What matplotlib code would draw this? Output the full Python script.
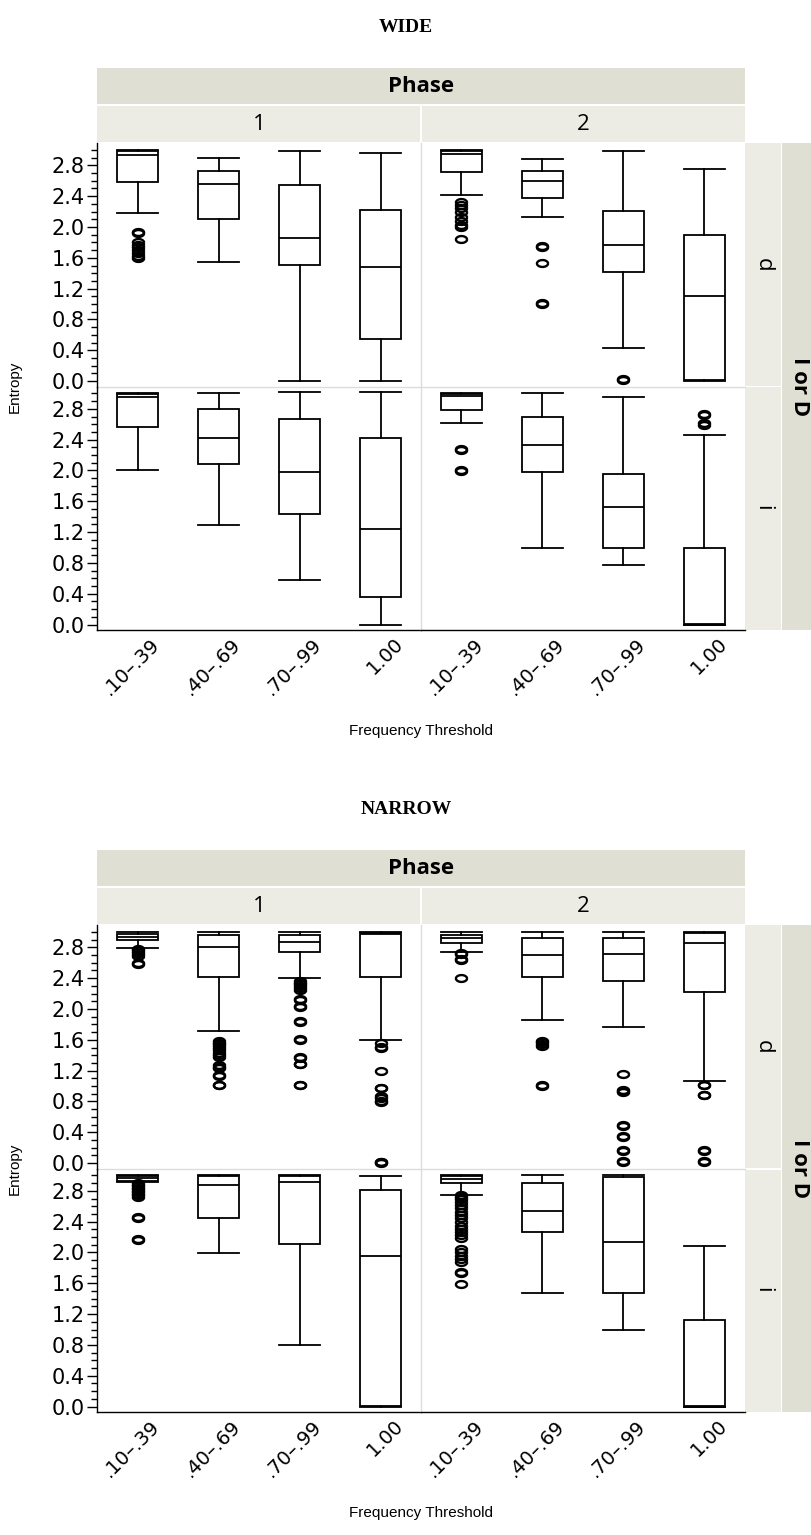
import numpy as np
import matplotlib
matplotlib.use("Agg")
import matplotlib.pyplot as plt
from matplotlib.patches import Rectangle
from matplotlib.ticker import MultipleLocator, FormatStrFormatter
from matplotlib.path import Path
from matplotlib.transforms import ScaledTranslation

# ---------------- data ----------------
categories = [".10\u2013.39", ".40\u2013.69", ".70\u2013.99", "1.00"]
phases = ["1", "2"]
rows = ["d", "i"]
titles = ["WIDE", "NARROW"]

# each box: (whisker low, q1, median, q3, whisker high)
wide_d1 = [(2.18, 2.58, 2.94, 2.99, 3.00), (1.55, 2.11, 2.56, 2.73, 2.89),
           (0.00, 1.51, 1.855, 2.54, 2.99), (0.00, 0.54, 1.48, 2.225, 2.96)]
wide_d2 = [(2.41, 2.72, 2.95, 2.99, 3.00), (2.13, 2.37, 2.60, 2.73, 2.88),
           (0.43, 1.42, 1.76, 2.21, 2.99), (0.00, 0.01, 1.11, 1.89, 2.75)]
wide_i1 = [(2.00, 2.57, 2.95, 2.99, 3.00), (1.29, 2.09, 2.42, 2.795, 3.00),
           (0.58, 1.43, 1.98, 2.67, 3.02), (0.00, 0.36, 1.24, 2.42, 3.02)]
wide_i2 = [(2.61, 2.78, 2.97, 2.99, 3.00), (1.00, 1.98, 2.33, 2.70, 3.00),
           (0.77, 1.00, 1.53, 1.95, 2.95), (0.00, 0.00, 0.01, 1.00, 2.46)]

wide_d1_out = [[1.93, 1.92, 1.80, 1.77, 1.74, 1.70, 1.66, 1.62, 1.60], [], [], []]
wide_d2_out = [[2.32, 2.28, 2.24, 2.20, 2.13, 2.08, 2.03, 2.00, 1.85],
               [1.75, 1.74, 1.53, 1.02, 1.00], [0.03, 0.02], []]
wide_i1_out = [[], [], [], []]
wide_i2_out = [[2.28, 2.26, 2.01, 1.99], [], [], [2.73, 2.72, 2.61, 2.59]]

narrow_d1 = [(2.79, 2.89, 2.94, 2.97, 3.00), (1.71, 2.42, 2.81, 2.96, 3.00),
             (2.40, 2.74, 2.87, 2.965, 3.00), (1.60, 2.42, 2.97, 2.985, 3.00)]
narrow_d2 = [(2.74, 2.86, 2.92, 2.965, 3.00), (1.86, 2.42, 2.70, 2.92, 3.00),
             (1.76, 2.36, 2.72, 2.92, 3.00), (1.07, 2.22, 2.855, 2.98, 3.00)]
narrow_i1 = [(2.91, 2.93, 2.965, 2.99, 3.00), (1.99, 2.45, 2.87, 2.99, 3.00),
             (0.80, 2.11, 2.92, 2.99, 3.00), (0.00, 0.01, 1.96, 2.81, 2.99)]
narrow_i2 = [(2.75, 2.90, 2.96, 2.99, 3.00), (1.48, 2.26, 2.54, 2.90, 3.00),
             (0.99, 1.48, 2.14, 2.98, 3.00), (0.00, 0.00, 0.01, 1.12, 2.09)]

narrow_d1_out = [[2.78, 2.76, 2.74, 2.72, 2.69, 2.60, 2.58],
                 [1.58, 1.56, 1.54, 1.52, 1.50, 1.47, 1.43, 1.40, 1.38, 1.27, 1.25, 1.24,
                  1.14, 1.13, 1.02, 1.01],
                 [2.36, 2.34, 2.32, 2.30, 2.27, 2.24, 2.13, 2.12, 2.04, 2.03, 1.84, 1.83,
                  1.61, 1.60, 1.38, 1.37, 1.29, 1.28, 1.02, 1.01],
                 [1.56, 1.51, 1.50, 1.20, 0.98, 0.97, 0.87, 0.85, 0.80, 0.79, 0.02, 0.01, 0.00]]
narrow_d2_out = [[2.73, 2.72, 2.65, 2.63, 2.40],
                 [1.59, 1.57, 1.55, 1.52, 1.01, 1.00],
                 [1.15, 0.95, 0.93, 0.92, 0.50, 0.48, 0.35, 0.34, 0.17, 0.16, 0.03, 0.02],
                 [1.02, 1.01, 0.89, 0.88, 0.17, 0.16, 0.03, 0.02]]
narrow_i1_out = [[2.90, 2.88, 2.86, 2.84, 2.82, 2.80, 2.78, 2.76, 2.74, 2.72, 2.46, 2.45,
                  2.17, 2.16], [], [], []]
narrow_i2_out = [[2.75, 2.72, 2.69, 2.66, 2.62, 2.58, 2.53, 2.49, 2.45, 2.39, 2.35, 2.31,
                  2.27, 2.23, 2.19, 2.04, 2.00, 1.96, 1.92, 1.88, 1.75, 1.73, 1.59],
                 [], [], []]

charts = [
    {"d": [(wide_d1, wide_d1_out), (wide_d2, wide_d2_out)],
     "i": [(wide_i1, wide_i1_out), (wide_i2, wide_i2_out)]},
    {"d": [(narrow_d1, narrow_d1_out), (narrow_d2, narrow_d2_out)],
     "i": [(narrow_i1, narrow_i1_out), (narrow_i2, narrow_i2_out)]},
]

# ---------------- layout ----------------
W, H = 812, 1535
fig = plt.figure(figsize=(W / 100, H / 100), dpi=100)
fig.patch.set_facecolor("white")

DARK = "#e0dfd3"
LIGHT = "#ecebe4"
SEP = "#dcdcdc"


def rect(x, y, w, h):
    return [x / W, 1 - (y + h) / H, w / W, h / H]


def add_rect(x, y, w, h, color):
    fig.add_artist(Rectangle((x / W, 1 - (y + h) / H), w / W, h / H,
                             transform=fig.transFigure, facecolor=color,
                             edgecolor="none", zorder=0))


def fx(x):
    return x / W


def fy(y):
    return 1 - y / H


theta = np.linspace(0, 2 * np.pi, 41)
oval = Path(np.column_stack([np.cos(theta), 0.62 * np.sin(theta)]))

strip_font = ["Open Sans", "DejaVu Sans"]
left, pw = 97, 324
for ci, chart in enumerate(charts):
    off = 782 * ci
    fig.text(0.5, fy(27 + off), titles[ci], ha="center", va="center",
             fontsize=14, fontweight="bold", family="Liberation Serif")
    # header strips
    add_rect(left, 68 + off, 2 * pw, 36, DARK)
    fig.text(fx(left + pw), fy(86 + off), "Phase", ha="center", va="center",
             fontsize=16, fontweight="bold", family=strip_font)
    for pi, ph in enumerate(phases):
        add_rect(left + pi * pw + (1 if pi else 0), 106 + off, pw - 1, 36, LIGHT)
        fig.text(fx(left + pi * pw + pw / 2), fy(124 + off), ph, ha="center",
                 va="center", fontsize=16, family=strip_font)
    # right strips
    row_tops = [143, 386.5]
    row_h = 243.5
    for ri, rn in enumerate(rows):
        add_rect(left + 2 * pw, row_tops[ri] + off + (1 if ri else 0), 36,
                 row_h - 1, LIGHT)
        fig.text(fx(left + 2 * pw + 18), fy(row_tops[ri] + row_h / 2 + off), rn,
                 ha="center", va="center", rotation=270, fontsize=16,
                 family=strip_font)
    add_rect(782, 143 + off, 30, 2 * row_h, DARK)
    fig.text(fx(800), fy(386.5 + off), "I or D", ha="center", va="center",
             rotation=270, fontsize=16, fontweight="bold", family=strip_font)

    fig.text(fx(15), fy(386.5 + off), "Entropy", ha="center", va="center",
             rotation=90, fontsize=11, family="Liberation Sans")
    fig.text(fx(left + pw), fy(731 + off), "Frequency Threshold", ha="center",
             va="center", fontsize=11, family="Liberation Sans")

    for ri, rn in enumerate(rows):
        for pi in range(2):
            boxes, outs = chart[rn][pi]
            ax = fig.add_axes(rect(left + pi * pw, row_tops[ri] + off, pw, row_h))
            stats = []
            for (lo, q1, med, q3, hi), fl in zip(boxes, outs):
                stats.append({"whislo": lo, "q1": q1, "med": med, "q3": q3,
                              "whishi": hi, "fliers": fl})
            lw = 1.3
            ax.bxp(stats, positions=range(len(categories)), widths=0.5,
                   capwidths=0.5, patch_artist=True, showfliers=True,
                   boxprops=dict(facecolor="white", edgecolor="black", linewidth=lw),
                   whiskerprops=dict(color="black", linewidth=lw),
                   capprops=dict(color="black", linewidth=lw),
                   medianprops=dict(color="black", linewidth=lw),
                   flierprops=dict(marker=oval, markerfacecolor="none",
                                   markeredgecolor="black", markersize=8,
                                   markeredgewidth=1.7, linestyle="none"))
            ax.set_xlim(-0.5, 3.5)
            ax.set_ylim(-0.07, 3.09)
            ax.set_facecolor("none")
            for s in ["top", "right", "left", "bottom"]:
                ax.spines[s].set_visible(False)
            if pi == 0:
                ax.spines["left"].set_visible(True)
                ax.spines["left"].set_color("black")
                ax.spines["left"].set_linewidth(1.0)
                ax.set_yticks(np.arange(0, 2.81, 0.4))
                ax.yaxis.set_major_formatter(FormatStrFormatter("%.1f"))
                ax.yaxis.set_minor_locator(MultipleLocator(0.1))
                ax.tick_params(axis="y", which="major", length=7, width=1.0,
                               labelsize=15, pad=2)
                ax.tick_params(axis="y", which="minor", length=4, width=1.0)
            else:
                ax.set_yticks([])
                ax.axvline(-0.5, color=SEP, linewidth=1.0, clip_on=False)
            if ri == 0:
                ax.axhline(-0.07, color=SEP, linewidth=1.0, clip_on=False)
                ax.set_xticks([])
            else:
                ax.spines["bottom"].set_visible(True)
                ax.spines["bottom"].set_color("black")
                ax.spines["bottom"].set_linewidth(1.0)
                ax.set_xticks(range(len(categories)))
                ax.set_xticklabels(categories, rotation=45, ha="right", va="top",
                                   rotation_mode="anchor", fontsize=14)
                ax.tick_params(axis="x", length=0, pad=3)
                for lab in ax.get_xticklabels():
                    lab.set_transform(lab.get_transform() +
                                      ScaledTranslation(0.13, 0, fig.dpi_scale_trans))

fig.savefig("out.png", dpi=100, facecolor="white")
